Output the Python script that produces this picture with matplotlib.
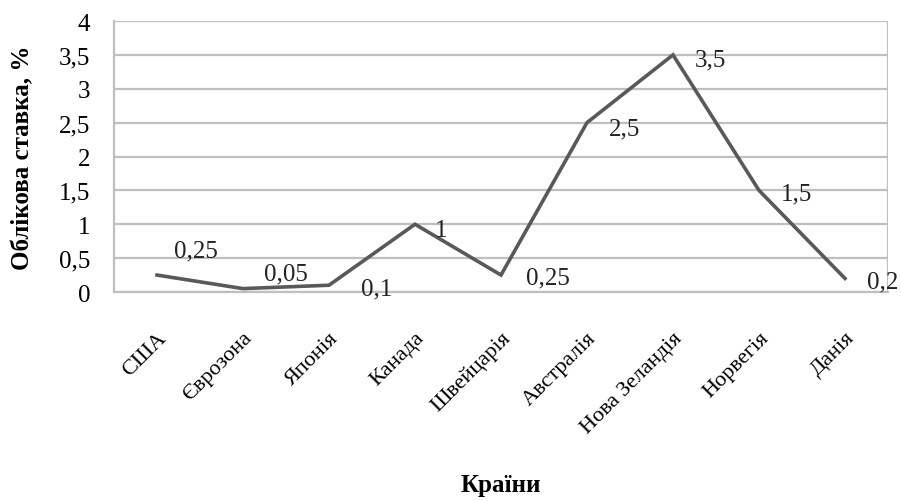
import numpy as np
import matplotlib.pyplot as plt

plt.rcParams['font.family'] = ['Liberation Serif', 'DejaVu Serif']

countries = ["США", "Єврозона", "Японія", "Канада", "Швейцарія",
             "Австралія", "Нова Зеландія", "Норвегія", "Данія"]
rates = [0.25, 0.05, 0.1, 1, 0.25, 2.5, 3.5, 1.5, 0.2]
# offsets of the value labels (points), as in the picture
label_offsets = [(12, 18), (15, 11), (23, -2), (14, -4), (18, -2),
                 (16, -4), (16, -3), (16, -2), (16, -2)]


def fmt(v):
    s = ("%g" % v).replace(".", ",")
    return s


def main():
    fig = plt.figure(figsize=(9.01, 5.02), dpi=100)
    ax = fig.add_axes([114 / 901, 1 - 293 / 502, (888 - 114) / 901, (293 - 22) / 502])

    x = np.arange(len(countries))
    ax.plot(x, rates, color='#595959', lw=2.6, solid_joinstyle='miter', zorder=3)

    for i, v in enumerate(rates):
        ax.annotate(fmt(v), (x[i], v), xytext=label_offsets[i], textcoords='offset points',
                    ha='left', va='center', fontsize=18, color='#222222')

    ax.set_xlim(-0.5, len(countries) - 0.5)
    ax.set_ylim(0, 4)
    ax.set_yticks(np.arange(0, 4.01, 0.5))
    ax.set_yticklabels([fmt(t) for t in np.arange(0, 4.01, 0.5)], fontsize=18)
    ax.set_xticks(x)
    ax.set_xticklabels(countries, rotation=45, ha='right', rotation_mode='anchor', fontsize=16)
    ax.tick_params(axis='y', length=0, pad=17)
    ax.tick_params(axis='x', length=0, pad=26)

    ax.grid(axis='y', color='#bfbfbf', lw=1.6)
    ax.set_axisbelow(True)
    for side in ['top', 'right']:
        ax.spines[side].set_visible(False)
    ax.spines['left'].set_color('#bfbfbf')
    ax.spines['bottom'].set_color('#bfbfbf')
    ax.spines['left'].set_linewidth(1.6)
    ax.spines['bottom'].set_linewidth(1.6)
    ax.axvline(len(countries) - 0.5, color='#bfbfbf', lw=1.6)

    ax.set_ylabel("Облікова ставка, %", fontsize=18, fontweight='bold')
    ax.yaxis.set_label_coords(-0.103, 0.5)
    fig.text(501 / 901, 1 - 486 / 502, "Країни", fontsize=18, fontweight='bold',
             ha='center', va='center')

    fig.savefig("out.png", dpi=100)
    plt.close()


if __name__ == '__main__':
    main()
